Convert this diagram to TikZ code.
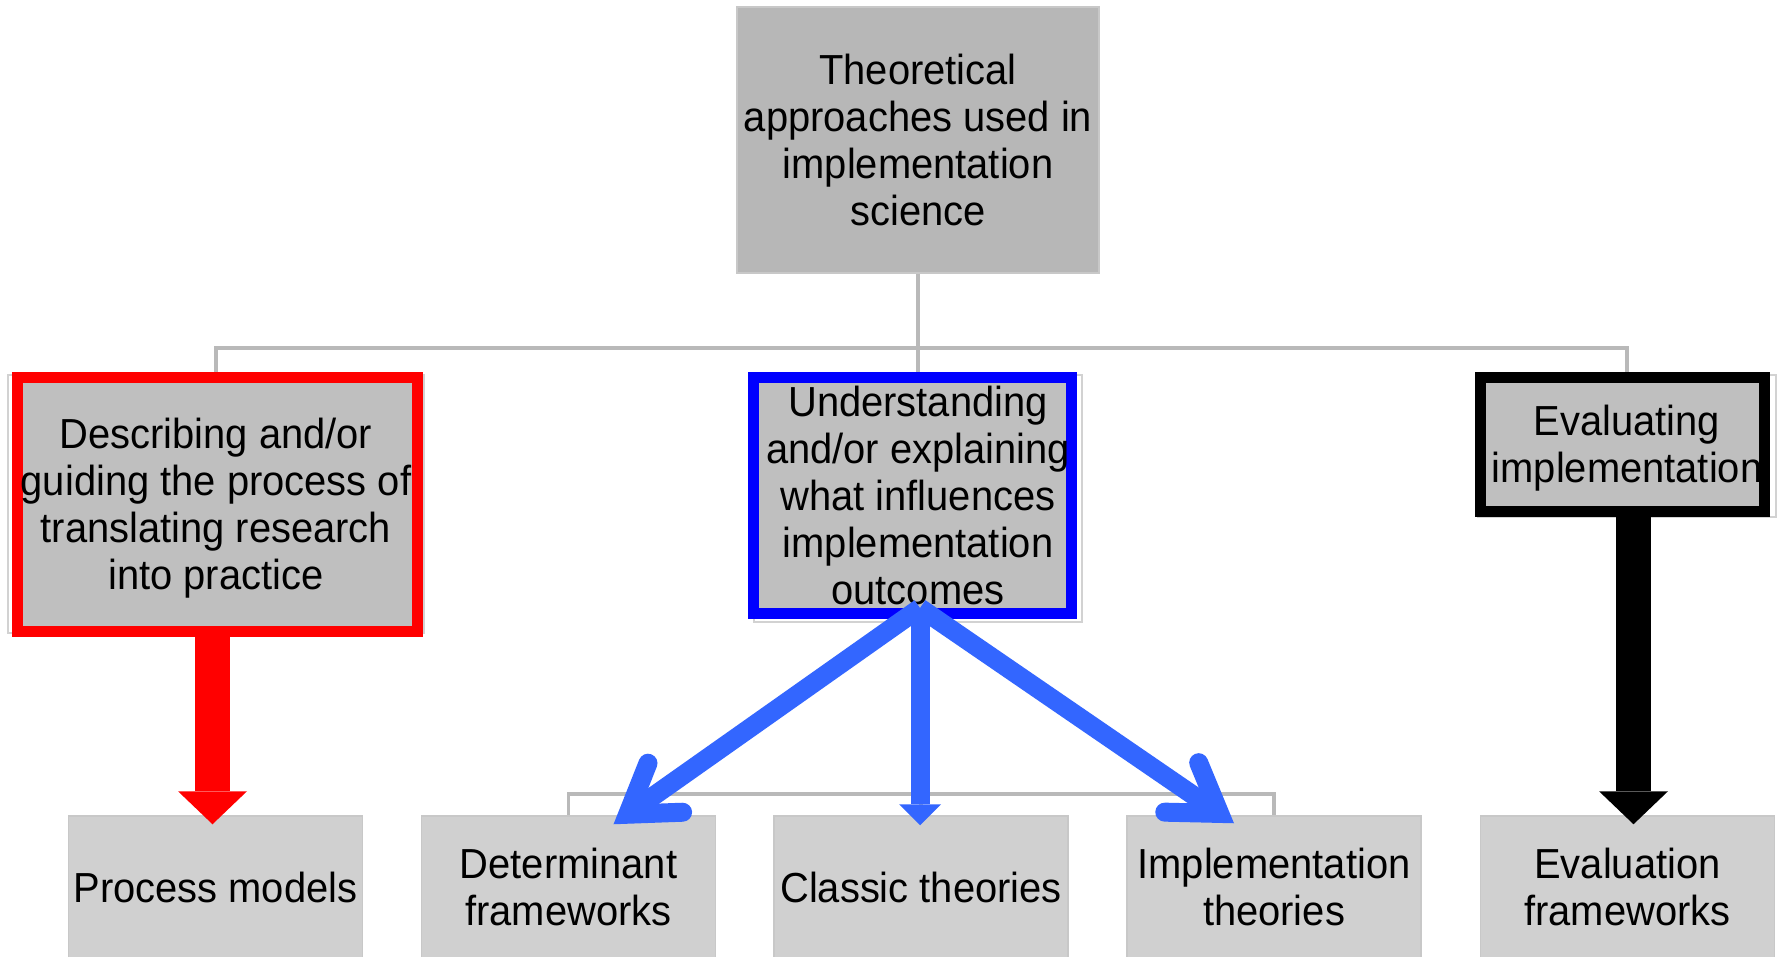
\documentclass[tikz,border=0pt]{standalone}
\usepackage{fontspec}
\setmainfont{Liberation Sans}[FakeStretch=0.95]
\usetikzlibrary{arrows.meta}

\tikzset{every picture/.style={line width=0.75pt}}
\tikzset{
  txt/.style={inner sep=0pt, align=center, font=\fontsize{21}{23.5}\selectfont},
  box/.style={txt, draw={rgb, 255:red, 200; green, 200; blue, 200}, line width=0.75pt},
  topbox/.style={box, fill={rgb, 255:red, 183; green, 183; blue, 183}, minimum width=181pt, minimum height=133pt},
  leafbox/.style={box, fill={rgb, 255:red, 208; green, 208; blue, 208}, minimum width=147pt, minimum height=71pt},
  backbox/.style={draw={rgb, 255:red, 210; green, 210; blue, 210}, line width=0.75pt, inner sep=0pt},
  frame/.style={fill={rgb, 255:red, 191; green, 191; blue, 191}, line width=5.5pt, inner sep=0pt},
  conn/.style={draw={rgb, 255:red, 185; green, 185; blue, 185}, line width=1.75pt},
  fatarrow/.style={line width=17.5pt, shorten >=-4.5pt, -{Triangle[length=16.5pt, width=34.5pt, line width=0pt]}},
  bluearrow/.style={draw={rgb, 255:red, 51; green, 102; blue, 255}, line width=9.5pt, -{Straight Barb[length=23pt, width=30pt, line cap=round, line join=miter]}},
  bluestraight/.style={draw={rgb, 255:red, 51; green, 102; blue, 255}, line width=9.5pt, -{Triangle[length=10.5pt, width=21pt, line width=0pt]}}
}

\begin{document}
\begin{tikzpicture}[x=0.5pt,y=0.5pt,yscale=-1,xscale=1]
%set diagram to 1781 x 957
\useasboundingbox (0,0) rectangle (1781,957);
\fill [white] (0,0) rectangle (1781,957);
\clip (0,0) rectangle (1781,957);

% Root
\node [topbox] (theory) at (918,140) {Theoretical\\approaches used in\\implementation\\science};

% Shapes behind the frames
\node [backbox, minimum width=208pt, minimum height=129pt] (describe0) at (216,504) {};
\node [backbox, minimum width=164pt, minimum height=123.5pt] (understand0) at (918,498.5) {};
\node [backbox, minimum width=149pt, minimum height=71pt] (evaluate0) at (1627,446) {};

% Leaves
\node [leafbox] (process) at (215.5,887) {Process models};
\node [leafbox] (determinant) at (568.5,887) {Determinant\\frameworks};
\node [leafbox] (classic) at (921,887) {Classic theories};
\node [leafbox] (impltheory) at (1274,887) {Implementation\\theories};
\node [leafbox] (evalframe) at (1627.5,887) {Evaluation\\frameworks};

% Connectors
\coordinate (bar) at (918,348);
\draw [conn] (theory.south) -- (bar);
\draw [conn] (bar) -| (describe0.north);
\draw [conn] (bar) -| (evaluate0.north);
\draw [conn] (bar) -- (understand0.north);
\coordinate (bar2) at (918,794);
\draw [conn] (understand0.south) -- (bar2);
\draw [conn] (bar2) -| (determinant.north);
\draw [conn] (bar2) -| (classic.north);
\draw [conn] (bar2) -| (impltheory.north);

% Frames
\node [frame, draw={rgb, 255:red, 255; green, 0; blue, 0}, minimum width=200pt, minimum height=127pt] (describe) at (217.5,504.5) {};
\node [frame, draw={rgb, 255:red, 0; green, 0; blue, 255}, minimum width=159pt, minimum height=118pt] (understand) at (912.5,495.5) {};
\node [frame, draw=black, minimum width=142pt, minimum height=67pt] (evaluate) at (1622.5,444.5) {};

% Text Node
\node [txt] (describe-text) at ([yshift=2pt]describe0) {Describing and/or\\guiding the process of\\translating research\\into practice};
% Text Node
\node [txt] (understand-text) at ([yshift=-1.5pt]understand0) {Understanding\\and/or explaining\\what influences\\implementation\\outcomes};
% Text Node
\node [txt] (evaluate-text) at ([yshift=1pt]evaluate0) {Evaluating\\implementation};

% Arrows
\draw [fatarrow, red] ([xshift=-2.5pt]describe.south) -- ([xshift=-2.5pt]describe.south |- process.north);
\draw [fatarrow, black] ([xshift=5.5pt]evaluate.south) -- ([xshift=5.5pt]evaluate.south |- evalframe.north);
\coordinate (hub) at (920,608);
\draw [bluearrow] (hub) -- ([shift={(45,9)}]determinant.north);
\draw [bluestraight] (hub) -- ([shift={(-1,10)}]classic.north);
\draw [bluearrow] (hub) -- ([shift={(-40,8)}]impltheory.north);
\end{tikzpicture}
\end{document}
